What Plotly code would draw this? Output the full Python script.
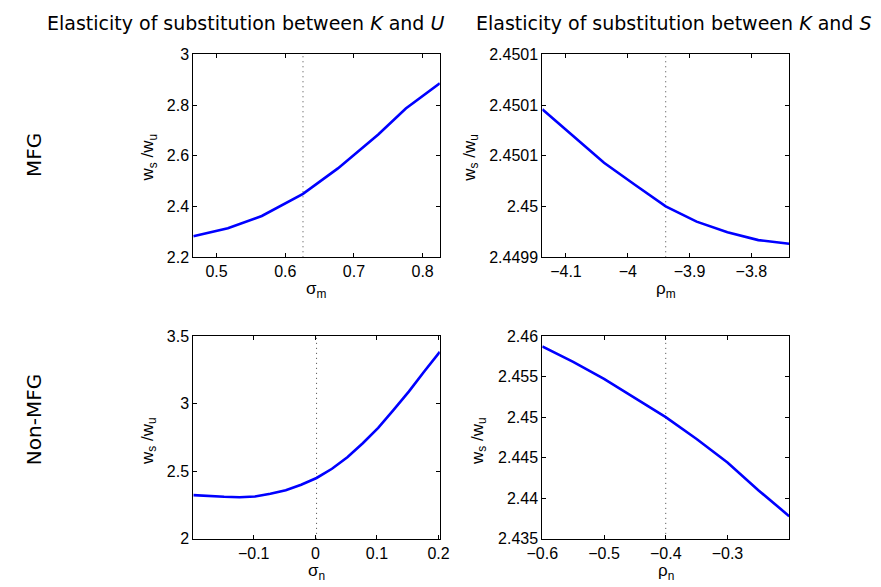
import plotly.graph_objects as go

# ---------------- data ----------------
col_titles = ["Elasticity of substitution between <i>K</i> and <i>U</i>",
              "Elasticity of substitution between <i>K</i> and <i>S</i>"]
row_labels = ["MFG", "Non-MFG"]
y_label = "w<sub>s</sub> /w<sub>u</sub>"
x_labels = ["σ<sub>m</sub>", "ρ<sub>m</sub>", "σ<sub>n</sub>", "ρ<sub>n</sub>"]

# MFG, elasticity K-U (sigma_m)
sigma_m = [0.4661, 0.5164, 0.5658, 0.6258, 0.6766, 0.7354, 0.7755, 0.825]
ratio_sigma_m = [2.2826, 2.3143, 2.3629, 2.45, 2.5503, 2.6841, 2.7862, 2.8857]
base_sigma_m = 0.6258

# MFG, elasticity K-S (rho_m)
rho_m = [-4.1383, -4.0884, -4.0384, -3.9885, -3.9386, -3.8886, -3.8387, -3.7887, -3.7388]
ratio_rho_m = [2.4500958, 2.4500696, 2.4500432, 2.4500215, 2.4500001,
               2.4499851, 2.4499746, 2.4499669, 2.4499634]
base_rho_m = -3.9386

# Non-MFG, elasticity K-U (sigma_n)
sigma_n = [-0.198, -0.173, -0.148, -0.123, -0.098, -0.073, -0.048, -0.023, 0.002,
           0.027, 0.052, 0.077, 0.102, 0.127, 0.152, 0.177, 0.202]
ratio_sigma_n = [2.323, 2.316, 2.311, 2.308, 2.313, 2.333, 2.360, 2.400, 2.450,
                 2.518, 2.603, 2.707, 2.820, 2.953, 3.090, 3.239, 3.382]
base_sigma_n = 0.002

# Non-MFG, elasticity K-S (rho_n)
rho_n = [-0.6, -0.55, -0.5, -0.45, -0.4, -0.35, -0.3, -0.25, -0.2]
ratio_rho_n = [2.4587, 2.4568, 2.4547, 2.4524, 2.4500, 2.4473, 2.4444, 2.4410, 2.4378]
base_rho_n = -0.4

# axis ticks
xt_sigma_m = [0.5, 0.6, 0.7, 0.8]
xl_sigma_m = ["0.5", "0.6", "0.7", "0.8"]
yt_sigma_m = [2.2, 2.4, 2.6, 2.8, 3.0]
yl_sigma_m = ["2.2", "2.4", "2.6", "2.8", "3"]
xt_rho_m = [-4.1, -4.0, -3.9, -3.8]
xl_rho_m = ["\u22124.1", "\u22124", "\u22123.9", "\u22123.8"]
yt_rho_m = [2.44995, 2.45, 2.45005, 2.4501, 2.45015]
yl_rho_m = ["2.4499", "2.45", "2.4501", "2.4501", "2.4501"]
xt_sigma_n = [-0.1, 0.0, 0.1, 0.2]
xl_sigma_n = ["\u22120.1", "0", "0.1", "0.2"]
yt_sigma_n = [2.0, 2.5, 3.0, 3.5]
yl_sigma_n = ["2", "2.5", "3", "3.5"]
xt_rho_n = [-0.6, -0.5, -0.4, -0.3]
xl_rho_n = ["\u22120.6", "\u22120.5", "\u22120.4", "\u22120.3"]
yt_rho_n = [2.435, 2.44, 2.445, 2.45, 2.455, 2.46]
yl_rho_n = ["2.435", "2.44", "2.445", "2.45", "2.455", "2.46"]

# ---------------- figure ----------------
W, H = 881, 587
fig = go.Figure()

panels = [
    dict(x=sigma_m, y=ratio_sigma_m, base=base_sigma_m, xr=[0.4661, 0.825], yr=[2.2, 3.0],
         xt=xt_sigma_m, xl=xl_sigma_m, yt=yt_sigma_m, yl=yl_sigma_m,
         px=(182.7, 436.7), py=(47.7, 256.7)),
    dict(x=rho_m, y=ratio_rho_m, base=base_rho_m, xr=[-4.1383, -3.7388], yr=[2.44995, 2.45015],
         xt=xt_rho_m, xl=xl_rho_m, yt=yt_rho_m, yl=yl_rho_m,
         px=(542.3, 796.7), py=(47.7, 256.7)),
    dict(x=sigma_n, y=ratio_sigma_n, base=base_sigma_n, xr=[-0.198, 0.202], yr=[2.0, 3.5],
         xt=xt_sigma_n, xl=xl_sigma_n, yt=yt_sigma_n, yl=yl_sigma_n,
         px=(182.7, 436.7), py=(337.7, 546.7)),
    dict(x=rho_n, y=ratio_rho_n, base=base_rho_n, xr=[-0.6, -0.2], yr=[2.435, 2.46],
         xt=xt_rho_n, xl=xl_rho_n, yt=yt_rho_n, yl=yl_rho_n,
         px=(542.3, 796.7), py=(337.7, 546.7)),
]

tick_font = dict(family="Liberation Sans", size=16, color="black")
label_font = dict(family="Liberation Sans", size=17, color="black")
title_font = dict(family="DejaVu Sans", size=19, color="black")
row_font = dict(family="DejaVu Sans", size=20, color="black")

layout_axes = {}
for i, p in enumerate(panels, start=1):
    xa = "x" if i == 1 else f"x{i}"
    ya = "y" if i == 1 else f"y{i}"
    # dotted baseline
    fig.add_trace(go.Scatter(x=[p["base"], p["base"]], y=p["yr"], mode="lines",
                             line=dict(color="#444444", width=1, dash="1px,4px"),
                             xaxis=xa, yaxis=ya, showlegend=False, hoverinfo="skip"))
    fig.add_trace(go.Scatter(x=p["x"], y=p["y"], mode="lines",
                             line=dict(color="#0000FF", width=2.6),
                             xaxis=xa, yaxis=ya, showlegend=False))
    common = dict(showline=True, linecolor="black", linewidth=1, mirror="allticks",
                  ticks="inside", ticklen=4, tickcolor="black", tickwidth=1,
                  showgrid=False, zeroline=False, tickfont=tick_font, fixedrange=True)
    layout_axes["xaxis" if i == 1 else f"xaxis{i}"] = dict(
        domain=[p["px"][0] / W, p["px"][1] / W], range=p["xr"], anchor=ya,
        tickmode="array", tickvals=p["xt"], ticktext=p["xl"], **common)
    layout_axes["yaxis" if i == 1 else f"yaxis{i}"] = dict(
        domain=[1 - p["py"][1] / H, 1 - p["py"][0] / H], range=p["yr"], anchor=xa,
        tickmode="array", tickvals=p["yt"], ticktext=p["yl"], **common)

fig.update_layout(width=W, height=H, margin=dict(l=0, r=0, t=0, b=0),
                  paper_bgcolor="white", plot_bgcolor="white", showlegend=False,
                  **layout_axes)

ann = []
# column titles
for txt, cx in zip(col_titles, [236, 678]):
    ann.append(dict(text=txt, x=cx / W, y=1 - 15 / H, xref="paper", yref="paper",
                    showarrow=False, font=title_font, xanchor="center", yanchor="middle"))
# row labels
for txt, cy in zip(row_labels, [151, 424]):
    ann.append(dict(text=txt, x=18 / W, y=1 - cy / H, xref="paper", yref="paper",
                    showarrow=False, font=row_font, textangle=-90,
                    xanchor="center", yanchor="middle"))
# y labels
for cx, cy in [(137, 154), (468, 154), (137, 446), (477, 446)]:
    ann.append(dict(text=y_label, x=cx / W, y=1 - cy / H, xref="paper", yref="paper",
                    showarrow=False, font=label_font, textangle=-90,
                    xanchor="center", yanchor="middle"))
# x labels
for txt, cx, cy in zip(x_labels, [309.7, 669.5, 309.7, 669.5], [277, 277, 567, 567]):
    ann.append(dict(text=txt, x=cx / W, y=1 - cy / H, xref="paper", yref="paper",
                    showarrow=False, font=label_font, xanchor="center", yanchor="top"))
fig.update_layout(annotations=ann)

fig.write_html("out.html")
